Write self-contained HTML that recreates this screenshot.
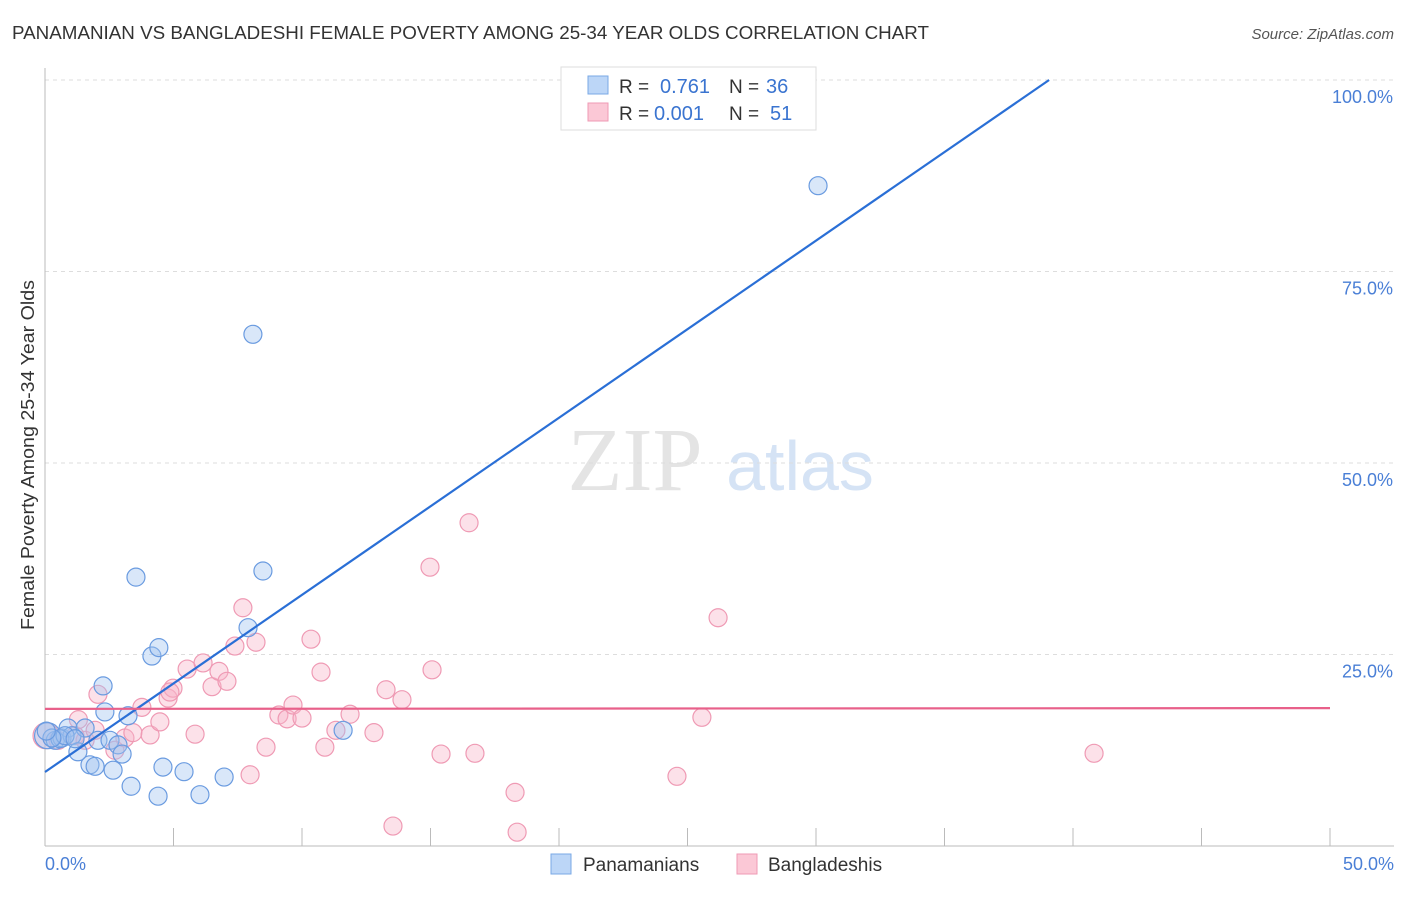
<!DOCTYPE html>
<html><head><meta charset="utf-8"><style>
body{margin:0;background:#fff;font-family:"Liberation Sans",sans-serif}
</style></head><body>
<svg id="c" width="1406" height="892" xmlns="http://www.w3.org/2000/svg">
<text x="12" y="39" font-size="18" fill="#333" textLength="917" lengthAdjust="spacingAndGlyphs">PANAMANIAN VS BANGLADESHI FEMALE POVERTY AMONG 25-34 YEAR OLDS CORRELATION CHART</text>
<text x="1394" y="39" font-size="15" fill="#555" font-style="italic" text-anchor="end">Source: ZipAtlas.com</text>
<text x="635" y="490" font-size="90" fill="#e4e4e4" font-family="Liberation Serif" text-anchor="middle">ZIP</text>
<text x="800" y="490" font-size="70" fill="#d5e3f5" text-anchor="middle">atlas</text>
<text transform="translate(34,455) rotate(-90)" font-size="18" fill="#333" text-anchor="middle" textLength="350" lengthAdjust="spacingAndGlyphs">Female Poverty Among 25-34 Year Olds</text>
<g id="grid"></g><g id="pts"></g><g id="lines"></g>
<g>
<rect x="561" y="67" width="255" height="63" fill="#fff" stroke="#ddd"/>
<rect x="588" y="76" width="20" height="18" fill="#bcd6f7" stroke="#7aa8e6"/>
<rect x="588" y="103" width="20" height="18" fill="#fbc8d6" stroke="#ef9ab4"/>
<text x="619" y="93" font-size="19" fill="#333">R =</text>
<text x="660" y="93" font-size="20" fill="#3a74d0">0.761</text>
<text x="729" y="93" font-size="19" fill="#333">N =</text>
<text x="766" y="93" font-size="20" fill="#3a74d0">36</text>
<text x="619" y="120" font-size="19" fill="#333">R =</text>
<text x="654" y="120" font-size="20" fill="#3a74d0">0.001</text>
<text x="729" y="120" font-size="19" fill="#333">N =</text>
<text x="770" y="120" font-size="20" fill="#3a74d0">51</text>
</g>
<g>
<rect x="551" y="854" width="20" height="20" fill="#bcd6f7" stroke="#7aa8e6"/>
<text x="583" y="871" font-size="19" fill="#333">Panamanians</text>
<rect x="737" y="854" width="20" height="20" fill="#fbc8d6" stroke="#ef9ab4"/>
<text x="768" y="871" font-size="19" fill="#333">Bangladeshis</text>
</g>
</svg>
<script>
const yTicks=[25,50,75,100];
const yTickLabels=["25.0%","50.0%","75.0%","100.0%"];
const blueX=[0.1,0.4,0.66,0.9,1.05,1.56,2.06,2.33,2.26,2.53,2.84,3.23,3.0,1.75,1.95,2.65,3.35,4.4,4.59,5.41,6.03,6.97,3.54,4.16,4.43,7.9,8.48,8.09,30.08,11.6,1.28,0.58,0.78,1.17,0.27,0.05];
const blueY=[14.4,13.8,14.1,15.4,14.4,15.4,13.8,17.5,20.9,13.8,13.2,17.0,12.0,10.6,10.4,9.9,7.8,6.5,10.3,9.7,6.7,9.0,35.1,24.8,25.9,28.5,35.9,66.8,86.2,15.1,12.3,14.0,14.4,14.0,14.1,15.0];
const pinkX=[0.04,0.51,1.17,1.56,1.95,2.06,2.72,3.11,3.42,3.77,4.09,4.47,4.79,4.98,5.53,5.84,6.15,6.5,6.77,7.08,7.39,7.7,8.21,7.98,8.6,9.1,9.42,9.65,10.0,10.35,10.74,10.89,11.32,11.87,12.8,13.27,13.54,13.89,14.98,15.06,15.41,16.5,16.73,18.29,18.37,24.59,25.56,26.19,40.82,4.86,1.3];
const pinkY=[14.4,13.8,14.4,13.8,15.1,19.8,12.5,14.1,14.8,18.1,14.5,16.2,19.3,20.6,23.1,14.6,23.9,20.8,22.8,21.5,26.1,31.1,26.6,9.3,12.9,17.1,16.6,18.4,16.7,27.0,22.7,12.9,15.1,17.2,14.8,20.4,2.6,19.1,36.4,23.0,12.0,42.2,12.1,7.0,1.8,9.1,16.8,29.8,12.1,20.1,16.5];
const blueLine=[[0,9.66],[39.07,100]];
const pinkLine=[[0,17.9],[50,18.0]];
const NS="http://www.w3.org/2000/svg";
const X=v=>45+v/50*1285, Y=v=>846-v/100*766;
function mk(t,a,p){const e=document.createElementNS(NS,t);for(const k in a)e.setAttribute(k,a[k]);p.appendChild(e);return e;}
const g=document.getElementById('grid');
yTicks.forEach((t,i)=>{
 const l=mk('line',{x1:45,x2:1394,y1:Y(t),y2:Y(t),stroke:'#ddd','stroke-dasharray':'4,4'},g);
 
 
 const tx=mk('text',{x:1393,y:Y(t)+23,'font-size':18,fill:'#4a7fd6','text-anchor':'end'},g);
 tx.textContent=yTickLabels[i];
 
 
});
mk('line',{x1:45,x2:45,y1:68,y2:846,stroke:'#bbb'},g);
mk('line',{x1:45,x2:1394,y1:846,y2:846,stroke:'#bbb'},g);
for(let i=0;i<=10;i++){const x=45+i*128.5;mk('line',{x1:x,x2:x,y1:828,y2:846,stroke:'#bbb'},g);}
const xl0=mk('text',{x:45,y:870,'font-size':18,fill:'#4a7fd6'},g);xl0.textContent='0.0%';


const xl1=mk('text',{x:1394,y:870,'font-size':18,fill:'#4a7fd6','text-anchor':'end'},g);xl1.textContent='50.0%';


const p=document.getElementById('pts');
pinkX.forEach((x,i)=>{const c=mk('circle',{cx:X(x),cy:Y(pinkY[i]),r:i==0?13:9,fill:'rgba(248,180,200,0.4)',stroke:'#ef9ab4','stroke-width':1.2},p);
 
 });
blueX.forEach((x,i)=>{const c=mk('circle',{cx:X(x),cy:Y(blueY[i]),r:i==0?13:9,fill:'rgba(160,196,240,0.4)',stroke:'#6a9be0','stroke-width':1.2},p);
 
 });
const L=document.getElementById('lines');
const bl=mk('line',{x1:X(blueLine[0][0]),y1:Y(blueLine[0][1]),x2:X(blueLine[1][0]),y2:Y(blueLine[1][1]),stroke:'#2a6fd6','stroke-width':2.2},L);


const pl=mk('line',{x1:X(pinkLine[0][0]),y1:Y(pinkLine[0][1]),x2:X(pinkLine[1][0]),y2:Y(pinkLine[1][1]),stroke:'#e8608a','stroke-width':2.2},L);


</script>
</body></html>
